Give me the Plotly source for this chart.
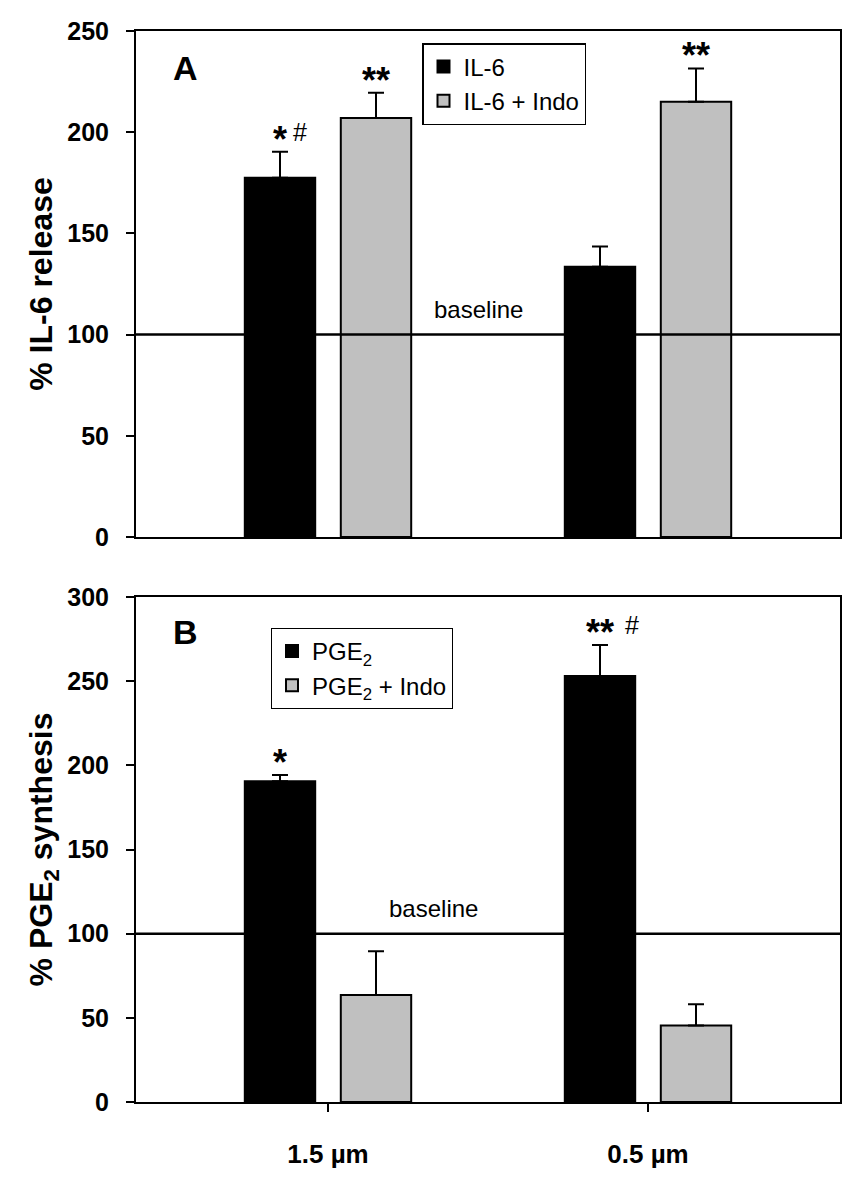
import plotly.graph_objects as go
from plotly.subplots import make_subplots

# ---------------- data ----------------
categories = ["1.5 µm", "0.5 µm"]

il6 = [177.5, 133.5]
il6_err = [12.8, 10.0]
il6_indo = [207.0, 215.0]
il6_indo_err = [12.5, 16.5]

pge2 = [190.5, 253.0]
pge2_err = [3.8, 18.5]
pge2_indo = [63.5, 45.5]
pge2_indo_err = [26.0, 12.5]

baseline_value = 100

sig_il6 = ["*", ""]
hash_il6 = ["#", ""]
sig_il6_indo = ["**", "**"]
sig_pge2 = ["*", "**"]
hash_pge2 = ["", "#"]
sig_pge2_indo = ["", ""]

# ---------------- style ----------------
FONT = "Arial, 'Liberation Sans', sans-serif"
BLACK = "#000000"
GRAY = "#c0c0c0"
BAR_W = 0.22
OFF_BLACK = -0.26
OFF_GRAY = 0.04

# page body has an 8px margin: size the figure to fit the window
PAGE_OFF = 8
W = 867 - 2 * PAGE_OFF
H = 1183 - 2 * PAGE_OFF


def px_x(sx):
    return (sx - PAGE_OFF) / W


def px_y(sy):
    return 1 - (sy - PAGE_OFF) / H


xpos = list(range(len(categories)))

fig = make_subplots(rows=2, cols=1)


def add_bars(row, vals, errs, color, name, offset, legend):
    fig.add_trace(
        go.Bar(
            x=xpos, y=vals, name=name, width=BAR_W, offset=offset,
            marker=dict(color=color, line=dict(color=BLACK, width=2)),
            error_y=dict(type="data", array=errs, arrayminus=[0] * len(errs),
                         symmetric=False, color=BLACK, thickness=2, width=8),
            legend=legend, showlegend=True,
        ),
        row=row, col=1,
    )


add_bars(1, il6, il6_err, BLACK, "IL-6", OFF_BLACK, "legend")
add_bars(1, il6_indo, il6_indo_err, GRAY, "IL-6 + Indo", OFF_GRAY, "legend")
add_bars(2, pge2, pge2_err, BLACK, "PGE<sub>2</sub>", OFF_BLACK, "legend2")
add_bars(2, pge2_indo, pge2_indo_err, GRAY, "PGE<sub>2</sub> + Indo", OFF_GRAY, "legend2")

annotations = []


def add_sig(xref, yref, vals, errs, offset, sigs, hashes):
    for i in range(len(vals)):
        xc = xpos[i] + offset + BAR_W / 2
        top = vals[i] + errs[i]
        if sigs[i]:
            annotations.append(dict(
                x=xc, y=top, xref=xref, yref=yref, text="<b>" + sigs[i] + "</b>",
                showarrow=False, xanchor="center", yanchor="bottom", yshift=-10,
                font=dict(family=FONT, size=36, color=BLACK)))
        if hashes[i]:
            n = len(sigs[i])
            annotations.append(dict(
                x=xc, y=top, xref=xref, yref=yref, text=hashes[i],
                showarrow=False, xanchor="center", yanchor="bottom",
                xshift=8 + 12 * n, yshift=4,
                font=dict(family=FONT, size=25, color=BLACK)))


add_sig("x", "y", il6, il6_err, OFF_BLACK, sig_il6, hash_il6)
add_sig("x", "y", il6_indo, il6_indo_err, OFF_GRAY, sig_il6_indo, ["", ""])
add_sig("x2", "y2", pge2, pge2_err, OFF_BLACK, sig_pge2, hash_pge2)
add_sig("x2", "y2", pge2_indo, pge2_indo_err, OFF_GRAY, sig_pge2_indo, ["", ""])

# baseline labels
annotations.append(dict(x=0.47, y=baseline_value, xref="x", yref="y", text="baseline",
                        showarrow=False, xanchor="center", yanchor="bottom", yshift=10,
                        font=dict(family=FONT, size=24, color=BLACK)))
annotations.append(dict(x=0.33, y=baseline_value, xref="x2", yref="y2", text="baseline",
                        showarrow=False, xanchor="center", yanchor="bottom", yshift=10,
                        font=dict(family=FONT, size=24, color=BLACK)))

# panel letters
annotations.append(dict(x=px_x(185), y=px_y(68), xref="paper", yref="paper",
                        text="<b>A</b>", showarrow=False, xanchor="center", yanchor="middle",
                        font=dict(family=FONT, size=34, color=BLACK)))
annotations.append(dict(x=px_x(185), y=px_y(632), xref="paper", yref="paper",
                        text="<b>B</b>", showarrow=False, xanchor="center", yanchor="middle",
                        font=dict(family=FONT, size=34, color=BLACK)))

shapes = [
    dict(type="line", xref="x domain", yref="y", x0=0, x1=1, y0=baseline_value, y1=baseline_value,
         line=dict(color=BLACK, width=2.5)),
    dict(type="line", xref="x2 domain", yref="y2", x0=0, x1=1, y0=baseline_value, y1=baseline_value,
         line=dict(color=BLACK, width=2.5)),
]

xdom = [px_x(136), px_x(840)]
axis_common = dict(showline=True, linecolor=BLACK, linewidth=2, mirror=True,
                   showgrid=False, zeroline=False, automargin=False)

fig.update_layout(
    width=W, height=H,
    margin=dict(l=0, r=0, t=0, b=0),
    paper_bgcolor="white", plot_bgcolor="white",
    font=dict(family=FONT, color=BLACK),
    barmode="overlay",
    annotations=annotations,
    shapes=shapes,
    xaxis=dict(domain=xdom, range=[-0.6, 1.6], tickvals=xpos, showticklabels=False,
               ticks="", **axis_common),
    xaxis2=dict(domain=xdom, range=[-0.6, 1.6], tickvals=xpos, ticktext=categories,
                ticks="outside", ticklen=8, tickwidth=2, tickcolor=BLACK,
                ticklabelstandoff=20,
                tickfont=dict(family=FONT, size=26, color=BLACK, weight="bold"),
                **axis_common),
    yaxis=dict(domain=[px_y(537), px_y(31)], range=[0, 250], dtick=50,
               ticks="outside", ticklen=8, tickwidth=2, tickcolor=BLACK,
               ticklabelstandoff=12,
               tickfont=dict(family=FONT, size=25, color=BLACK, weight="bold"),
               title=dict(text="<b>% IL-6 release</b>", standoff=5,
                          font=dict(family=FONT, size=32, color=BLACK)),
               **axis_common),
    yaxis2=dict(domain=[px_y(1102), px_y(597)], range=[0, 300], dtick=50,
                ticks="outside", ticklen=8, tickwidth=2, tickcolor=BLACK,
                ticklabelstandoff=12,
                tickfont=dict(family=FONT, size=25, color=BLACK, weight="bold"),
                title=dict(text="<b>% PGE<sub>2</sub> synthesis</b>", standoff=5,
                           font=dict(family=FONT, size=32, color=BLACK)),
                **axis_common),
    legend=dict(x=px_x(422), y=px_y(43), xanchor="left", yanchor="top",
                bordercolor=BLACK, borderwidth=1.5, bgcolor="white",
                font=dict(family=FONT, size=24, color=BLACK),
                traceorder="normal", tracegroupgap=0, itemsizing="constant"),
    legend2=dict(x=px_x(271), y=px_y(628), xanchor="left", yanchor="top",
                 bordercolor=BLACK, borderwidth=1, bgcolor="white",
                 font=dict(family=FONT, size=24, color=BLACK),
                 traceorder="normal", tracegroupgap=0, itemsizing="constant"),
)

fig.write_html("out.html")
